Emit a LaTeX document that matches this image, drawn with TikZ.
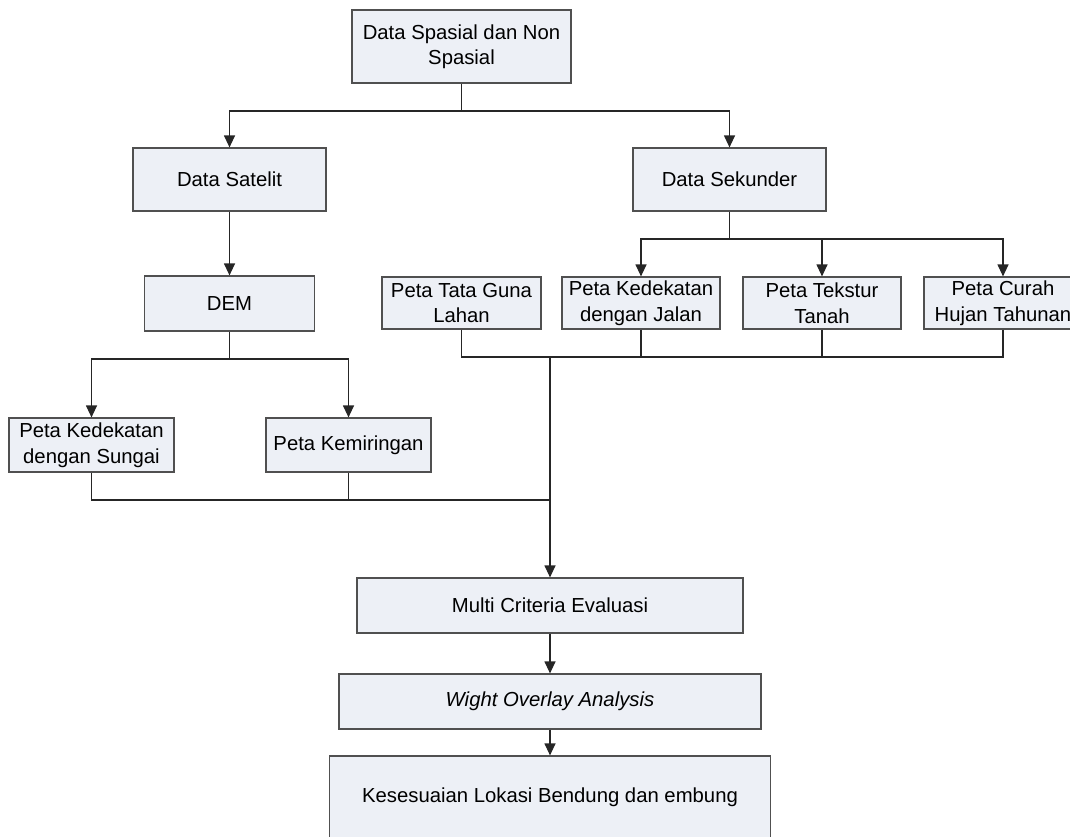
\documentclass[tikz,border=0pt]{standalone}
\usepackage{fontspec}
\setmainfont{Liberation Sans}
\usetikzlibrary{arrows.meta}
\definecolor{boxfill}{RGB}{237,240,246}
\definecolor{boxline}{RGB}{80,80,80}
\begin{document}
\begin{tikzpicture}[x=1pt,y=-1pt,
  box/.style={draw=boxline,fill=boxfill,line width=1.2pt,inner sep=0pt,align=center,
    font=\fontsize{20.3}{25.5}\selectfont},
  conn/.style={draw=black!85,line width=1.2pt},
  arr/.style={conn,-{Triangle[width=11pt,length=12pt]}}]
\useasboundingbox (0,0) rectangle (1070,836);
\node[box,minimum width=219pt,minimum height=73pt] (top) at (461.5,46.5) {Data Spasial dan Non\\Spasial};
\node[box,minimum width=193pt,minimum height=63pt] (sat) at (229.5,179.5) {Data Satelit};
\node[box,minimum width=193pt,minimum height=63pt] (sek) at (729.5,179.5) {Data Sekunder};
\node[box,minimum width=170pt,minimum height=55pt] (dem) at (229.5,303.5) {DEM};
\node[box,minimum width=165pt,minimum height=54pt] (sungai) at (91.5,445) {Peta Kedekatan\\dengan Sungai};
\node[box,minimum width=165pt,minimum height=54pt] (kemir) at (348.5,445) {Peta Kemiringan};
\node[box,minimum width=159pt,minimum height=52pt] (tata) at (461.5,303) {Peta Tata Guna\\Lahan};
\node[box,minimum width=158pt,minimum height=52pt] (jalan) at (641,303) {Peta Kedekatan\\dengan Jalan};
\node[box,minimum width=158pt,minimum height=52pt] (tekstur) at (822,303) {Peta Tekstur\\Tanah};
\node[box,minimum width=158pt,minimum height=52pt] (curah) at (1003,303) {Peta Curah\\Hujan Tahunan};
\node[box,minimum width=386pt,minimum height=55pt] (multi) at (550,605.5) {Multi Criteria Evaluasi};
\node[box,minimum width=422pt,minimum height=55pt] (wight) at (550,701.5) {\itshape Wight Overlay Analysis};
\node[box,minimum width=441pt,minimum height=82pt] (kes) at (550,797) {Kesesuaian Lokasi Bendung dan embung};

\coordinate (j1) at (461.5,111);
\coordinate (j2) at (229.5,359);
\coordinate (j3) at (729.5,239);
\coordinate (j4) at (550,500);
\coordinate (j5) at (550,357);

\draw[conn] (top.south) -- (j1);
\draw[arr] (j1) -| (sat.north);
\draw[arr] (j1) -| (sek.north);
\draw[arr] (sat.south) -- (dem.north);
\draw[conn] (dem.south) -- (j2);
\draw[arr] (j2) -| (sungai.north);
\draw[arr] (j2) -| (kemir.north);
\draw[conn] (sek.south) -- (j3);
\draw[arr] (j3) -| (jalan.north);
\draw[arr] (j3) -| (tekstur.north);
\draw[arr] (j3) -| (curah.north);
\draw[conn] (sungai.south) |- (j4);
\draw[conn] (kemir.south) |- (j4);
\draw[conn] (tata.south) |- (j5);
\draw[conn] (jalan.south) |- (j5);
\draw[conn] (tekstur.south) |- (j5);
\draw[conn] (curah.south) |- (j5);
\draw[arr] (j5) -- (multi.north);
\draw[arr] (multi.south) -- (wight.north);
\draw[arr] (wight.south) -- (kes.north);
\end{tikzpicture}
\end{document}
